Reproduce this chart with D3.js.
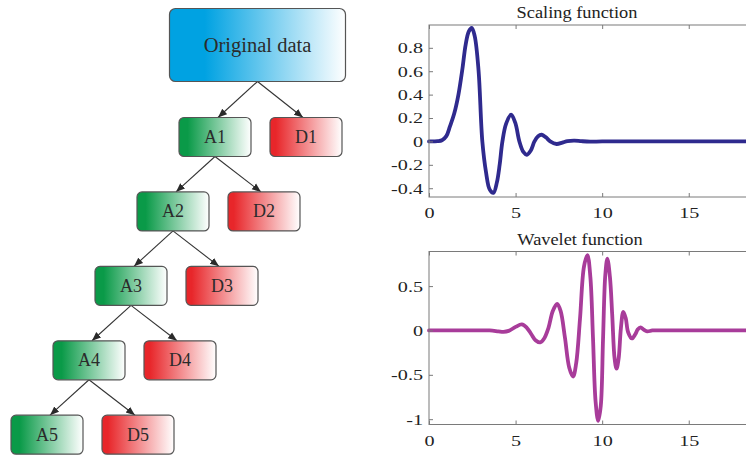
<!DOCTYPE html>
<html>
<head>
<meta charset="utf-8">
<script src="https://cdn.jsdelivr.net/npm/d3@7"></script>
<style>
  html, body { margin: 0; padding: 0; background: #fff; }
  svg { display: block; }
  svg text { font-family: "Liberation Serif", "Times New Roman", Tinos, "DejaVu Serif", serif; }
</style>
</head>
<body>
<svg id="chart" width="746" height="455"></svg>
<script>
// ---- Decomposition tree ----
const rootLabel = "Original data";
const levels = [1, 2, 3, 4, 5];
const approxLabels = ["A1", "A2", "A3", "A4", "A5"];
const detailLabels = ["D1", "D2", "D3", "D4", "D5"];

// ---- Scaling function phi(t) ----
const scaleT = [0, 0.5, 0.75, 1.0, 1.21, 1.46, 1.7, 1.92, 2.12, 2.3, 2.47, 2.64, 2.86, 3.08, 3.3, 3.5, 3.72, 3.92, 4.08, 4.24, 4.45, 4.74, 4.98, 5.22, 5.45, 5.65, 5.87, 6.09, 6.3, 6.51, 6.75, 7.0, 7.37, 7.7, 8.0, 8.4, 8.8, 9.3, 10, 12, 15, 19];
const scaleV = [0, 0.002, 0.01, 0.045, 0.128, 0.24, 0.4, 0.61, 0.83, 0.94, 0.97, 0.9, 0.61, 0.0, -0.27, -0.41, -0.44, -0.35, -0.2, 0.0, 0.15, 0.228, 0.16, 0.0, -0.09, -0.114, -0.08, 0.0, 0.045, 0.057, 0.035, 0.0, -0.022, -0.01, 0.003, 0.007, 0.002, -0.002, 0, 0, 0, 0];

// ---- Wavelet function psi(t) ----
const waveT = [0, 2, 3.5, 4.0, 4.3, 4.6, 5.0, 5.36, 5.65, 5.9, 6.15, 6.42, 6.65, 6.9, 7.15, 7.4, 7.6, 7.85, 8.1, 8.32, 8.5, 8.72, 8.95, 9.15, 9.32, 9.47, 9.62, 9.77, 9.92, 10.05, 10.18, 10.3, 10.45, 10.58, 10.72, 10.83, 10.95, 11.08, 11.22, 11.36, 11.5, 11.72, 11.92, 12.05, 12.22, 12.4, 12.6, 12.9, 13.5, 19];
const waveV = [0, 0, 0, -0.01, -0.016, -0.005, 0.04, 0.068, 0.03, -0.04, -0.11, -0.135, -0.09, 0.03, 0.22, 0.30, 0.22, -0.08, -0.42, -0.52, -0.37, 0.13, 0.72, 0.85, 0.6, -0.08, -0.8, -1.02, -0.85, -0.1, 0.62, 0.81, 0.6, 0.18, -0.32, -0.43, -0.32, 0.02, 0.21, 0.14, -0.02, -0.09, -0.04, 0.01, 0.035, 0.01, -0.01, 0, 0, 0];

const xTicks = [0, 5, 10, 15];
const scaleYTicks = [-0.4, -0.2, 0, 0.2, 0.4, 0.6, 0.8];
const waveYTicks = [-1, -0.5, 0, 0.5];

const svg = d3.select("#chart");

// ---- gradients for tree nodes ----
const defs = svg.append("defs");
function grad(id, color, solidEnd) {
  const g = defs.append("linearGradient").attr("id", id)
    .attr("x1", "0%").attr("x2", "100%").attr("y1", "0%").attr("y2", "0%");
  g.append("stop").attr("offset", "0%").attr("stop-color", color);
  g.append("stop").attr("offset", solidEnd).attr("stop-color", color);
  g.append("stop").attr("offset", "100%").attr("stop-color", "#ffffff");
}
grad("gBlue", "#00a2e2", "20%");
grad("gGreen", "#0a9a48", "12%");
grad("gRed", "#e8262a", "8%");

defs.append("marker").attr("id", "arrow")
  .attr("viewBox", "0 0 10 10").attr("refX", 10).attr("refY", 5)
  .attr("markerWidth", 9).attr("markerHeight", 9).attr("markerUnits", "userSpaceOnUse")
  .attr("orient", "auto")
  .append("path").attr("d", "M0,1 L10,5 L0,9 Z").attr("fill", "#2a2a2a");

// node layout scales
const levelY = d3.scaleLinear().domain([1, 5]).range([137, 434.7]);
const approxX = d3.scaleLinear().domain([1, 5]).range([215, 47]);
const detailShift = 91;
const nodeW = 72, nodeH = 39;

const tree = svg.append("g");
const root = { x: 257.5, y: 45, w: 176, h: 73 };

const nodes = [];
levels.forEach((lv, i) => {
  nodes.push({ level: lv, label: approxLabels[i], kind: "A", x: approxX(lv), y: levelY(lv) });
  nodes.push({ level: lv, label: detailLabels[i], kind: "D", x: approxX(lv) + detailShift, y: levelY(lv) });
});

// edges
const edges = [];
levels.forEach(lv => {
  const parent = lv === 1 ? { x: root.x, y: root.y + root.h / 2 }
                          : { x: approxX(lv - 1), y: levelY(lv - 1) + nodeH / 2 };
  nodes.filter(n => n.level === lv).forEach(n => {
    const dir = Math.sign(parent.x - n.x);
    edges.push({ x1: parent.x, y1: parent.y, x2: n.x + dir * 3, y2: n.y - nodeH / 2 });
  });
});
tree.selectAll("line.edge").data(edges).join("line")
  .attr("class", "edge")
  .attr("x1", d => d.x1).attr("y1", d => d.y1)
  .attr("x2", d => d.x2).attr("y2", d => d.y2)
  .attr("stroke", "#333").attr("stroke-width", 1.1)
  .attr("marker-end", "url(#arrow)");

// root box
tree.append("rect")
  .attr("x", root.x - root.w / 2).attr("y", root.y - root.h / 2)
  .attr("width", root.w).attr("height", root.h).attr("rx", 6)
  .attr("fill", "url(#gBlue)").attr("stroke", "#555").attr("stroke-width", 1.2);
tree.append("text")
  .attr("x", root.x).attr("y", root.y + 7)
  .attr("text-anchor", "middle").style("font-size", "20.5px")
  .attr("fill", "#2b2b2b").text(rootLabel);

const ng = tree.selectAll("g.node").data(nodes).join("g").attr("class", "node");
ng.append("rect")
  .attr("x", d => d.x - nodeW / 2).attr("y", d => d.y - nodeH / 2)
  .attr("width", nodeW).attr("height", nodeH).attr("rx", 5)
  .attr("fill", d => d.kind === "A" ? "url(#gGreen)" : "url(#gRed)")
  .attr("stroke", "#555").attr("stroke-width", 1.2);
ng.append("text")
  .attr("x", d => d.x).attr("y", d => d.y + 6)
  .attr("text-anchor", "middle").style("font-size", "18px")
  .attr("fill", "#2b2b2b").text(d => d.label);

// ---- function plots ----
const tickStretch = 1.3;   // tick numerals are set slightly wide
function plot(cfg) {
  const g = svg.append("g");
  const x = d3.scaleLinear().domain([0, 19]).range([429, 758]);
  const y = d3.scaleLinear().domain(cfg.yDomain).range([cfg.bottom, cfg.top]);
  const pts = cfg.t.map((t, i) => [t, cfg.v[i]]);

  g.append("path").datum(pts)
    .attr("d", d3.line().x(d => x(d[0])).y(d => y(d[1])).curve(d3.curveCatmullRom.alpha(0.5)))
    .attr("fill", "none").attr("stroke", cfg.color).attr("stroke-width", 3.8)
    .attr("stroke-linejoin", "round").attr("stroke-linecap", "round");

  const boxColor = "#7a7a7a";
  g.append("rect")
    .attr("x", x(0)).attr("y", cfg.top)
    .attr("width", x(19) - x(0)).attr("height", cfg.bottom - cfg.top)
    .attr("fill", "none").attr("stroke", boxColor).attr("stroke-width", 1);

  // inward ticks on bottom, top and left edges
  const xb = d3.axisBottom(x).tickValues(xTicks).tickSize(-4).tickFormat(d3.format("d")).tickPadding(10);
  const ax = g.append("g").attr("transform", `translate(0,${cfg.bottom})`).call(xb);
  const xt = d3.axisTop(x).tickValues(xTicks).tickSize(-4).tickFormat("");
  const axt = g.append("g").attr("transform", `translate(0,${cfg.top})`).call(xt);
  const yl = d3.axisLeft(y).tickValues(cfg.yTicks).tickSize(-4).tickPadding(6)
    .tickFormat(d => String(d));
  const ay = g.append("g").attr("transform", `translate(${x(0)},0)`).call(yl);

  [ax, axt, ay].forEach(a => {
    a.attr("font-family", null).attr("font-size", null);
    a.select(".domain").remove();
    a.selectAll(".tick line").attr("stroke", boxColor);
    a.selectAll(".tick text").style("font-size", "15.5px").attr("fill", "#222");
  });
  ax.selectAll(".tick text").attr("dy", "0.71em")
    .attr("transform", `scale(${tickStretch},1)`);
  ay.selectAll(".tick text").attr("x", 0)
    .attr("transform", `translate(-6,0) scale(${tickStretch},1)`);

  g.append("text")
    .attr("transform", `translate(${cfg.titleX},${cfg.titleY}) scale(1.08,1)`)
    .attr("text-anchor", "middle").style("font-size", "17px")
    .attr("fill", "#222").text(cfg.title);
}

plot({ title: "Scaling function", t: scaleT, v: scaleV, color: "#2f2a8e",
       yDomain: [-0.475, 0.995], top: 25, bottom: 197, yTicks: scaleYTicks,
       titleX: 577, titleY: 18 });
plot({ title: "Wavelet function", t: waveT, v: waveV, color: "#a83c9a",
       yDomain: [-1.06, 0.89], top: 251.5, bottom: 424.5, yTicks: waveYTicks,
       titleX: 580, titleY: 245 });
</script>
</body>
</html>
